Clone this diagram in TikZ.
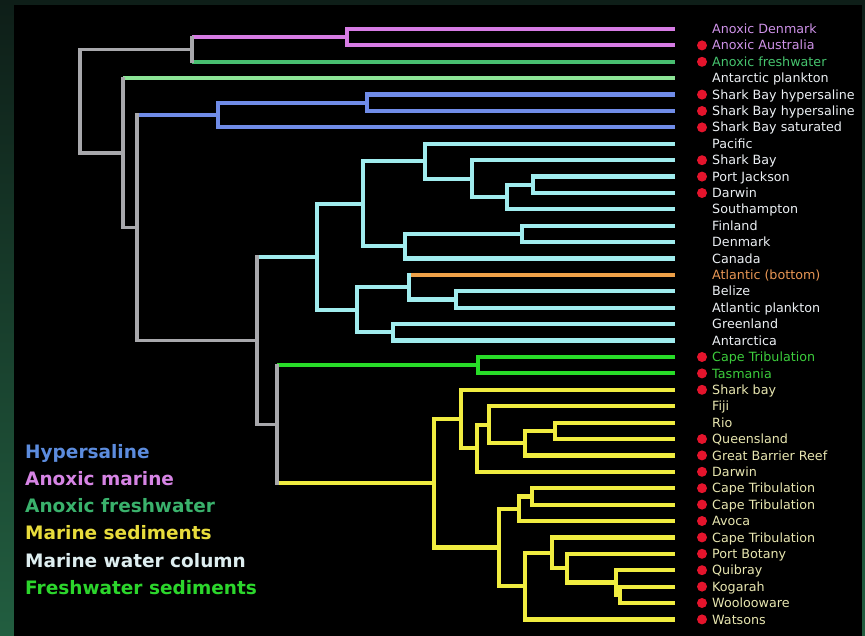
\documentclass[tikz,border=0pt]{standalone}
\usepackage{fontspec}
\setmainfont{DejaVu Sans}
\usepackage{xcolor}
\definecolor{dgtop}{RGB}{14, 30, 24}
\definecolor{dgbot}{RGB}{34, 94, 64}
\definecolor{anxmag}{RGB}{214, 124, 228}
\definecolor{anxfw}{RGB}{72, 190, 112}
\definecolor{antgrn}{RGB}{140, 228, 150}
\definecolor{hypblu}{RGB}{112, 140, 232}
\definecolor{seacyn}{RGB}{160, 236, 238}
\definecolor{atlorg}{RGB}{238, 160, 72}
\definecolor{frsgrn}{RGB}{40, 220, 40}
\definecolor{sedyel}{RGB}{240, 236, 64}
\definecolor{stemgr}{RGB}{168, 168, 172}
\definecolor{dotred}{RGB}{228, 20, 44}
\definecolor{labmag}{RGB}{206, 146, 232}
\definecolor{labfw}{RGB}{70, 196, 110}
\definecolor{labwht}{RGB}{236, 240, 244}
\definecolor{laborg}{RGB}{232, 150, 84}
\definecolor{labgrn}{RGB}{60, 204, 60}
\definecolor{labyel}{RGB}{232, 230, 176}
\definecolor{legblu}{RGB}{92, 140, 222}
\definecolor{legmag}{RGB}{214, 132, 228}
\definecolor{legfw}{RGB}{58, 178, 108}
\definecolor{legyel}{RGB}{232, 220, 60}
\definecolor{legwht}{RGB}{222, 238, 240}
\definecolor{leggrn}{RGB}{44, 214, 44}
\usepackage{tikz}

\begin{document}
\begin{tikzpicture}[
    x=1pt, y=-1pt,
    br/.style={line width=4.2pt},
    joint/.style={line cap=rect},
    anoxic/.style={br, draw=anxmag},
    anoxfw/.style={br, draw=anxfw},
    antarc/.style={br, draw=antgrn},
    hyper/.style={br, draw=hypblu},
    marine/.style={br, draw=seacyn},
    atlbot/.style={br, draw=atlorg},
    fresh/.style={br, draw=frsgrn},
    sedim/.style={br, draw=sedyel},
    trunk/.style={line width=3.2pt, draw=stemgr},
    leaf/.style={anchor=base west, inner sep=0pt,
                 font=\fontsize{12.7}{14}\selectfont},
    key/.style={anchor=base west, inner sep=0pt,
                font=\fontsize{18.5}{20}\selectfont\bfseries},
    reddot/.style={circle, fill=dotred, minimum size=10pt, inner sep=0pt}
  ]
  \shade[top color=dgtop, bottom color=dgbot] (0,0) rectangle (865,636);
  \fill[black] (14,5) rectangle (862,636);

  \foreach \i/\txt/\tc/\mk in {
      1/Anoxic Denmark/labmag/0, 2/Anoxic Australia/labmag/1,
      3/Anoxic freshwater/labfw/1, 4/Antarctic plankton/labwht/0,
      5/Shark Bay hypersaline/labwht/1, 6/Shark Bay hypersaline/labwht/1,
      7/Shark Bay saturated/labwht/1, 8/Pacific/labwht/0,
      9/Shark Bay/labwht/1, 10/Port Jackson/labwht/1,
      11/Darwin/labwht/1, 12/Southampton/labwht/0,
      13/Finland/labwht/0, 14/Denmark/labwht/0,
      15/Canada/labwht/0, 16/Atlantic (bottom)/laborg/0,
      17/Belize/labwht/0, 18/Atlantic plankton/labwht/0,
      19/Greenland/labwht/0, 20/Antarctica/labwht/0,
      21/Cape Tribulation/labgrn/1, 22/Tasmania/labgrn/1,
      23/Shark bay/labyel/1, 24/Fiji/labyel/0,
      25/Rio/labyel/0, 26/Queensland/labyel/1,
      27/Great Barrier Reef/labyel/1, 28/Darwin/labyel/1,
      29/Cape Tribulation/labyel/1, 30/Cape Tribulation/labyel/1,
      31/Avoca/labyel/1, 32/Cape Tribulation/labyel/1,
      33/Port Botany/labyel/1, 34/Quibray/labyel/1,
      35/Kogarah/labyel/1, 36/Woolooware/labyel/1,
      37/Watsons/labyel/1}{
    \coordinate (t\i) at (675,{29+16.4*(\i-1)});
    \node[leaf, text=\tc] (l\i) at (712,{33.6+16.4*(\i-1)}) {\txt};
    \ifnum\mk=1 \node[reddot] (d\i) at (702,{29+16.4*(\i-1)}) {}; \fi
  }

  \coordinate (A)   at (347, 37.2);
  \coordinate (B)   at (192, 49.5);
  \coordinate (H1)  at (367, 102.8);
  \coordinate (H)   at (218, 115.1);
  \coordinate (C1)  at (533, 184.8);
  \coordinate (C2)  at (507, 197.1);
  \coordinate (C3)  at (472, 178.65);
  \coordinate (C4)  at (425, 161.2);
  \coordinate (C5)  at (522, 234);
  \coordinate (C6)  at (405, 246.3);
  \coordinate (C7)  at (363, 203.75);
  \coordinate (C8)  at (456, 299.6);
  \coordinate (C9)  at (409, 287.3);
  \coordinate (C10) at (393, 332.4);
  \coordinate (C11) at (357, 309.85);
  \coordinate (C)   at (317, 256.8);
  \coordinate (G)   at (478, 365.2);
  \coordinate (Y1)  at (555, 430.8);
  \coordinate (Y2)  at (525, 443.1);
  \coordinate (Y3)  at (489, 424.65);
  \coordinate (Y4)  at (477, 448.2);
  \coordinate (Y5)  at (461, 419);
  \coordinate (Y6)  at (532, 496.4);
  \coordinate (Y7)  at (519, 508.7);
  \coordinate (Y8)  at (620, 594.8);
  \coordinate (Y9)  at (616, 582.5);
  \coordinate (Y10) at (567, 568.15);
  \coordinate (Y11) at (552, 552.8);
  \coordinate (Y12) at (525, 586.1);
  \coordinate (Y13) at (499, 547.4);
  \coordinate (Y)   at (434, 483.2);
  \coordinate (R1)  at (277, 424.2);
  \coordinate (R2)  at (257, 340.5);
  \coordinate (R3)  at (137, 227.8);
  \coordinate (R4)  at (123, 153);
  \coordinate (Rt)  at (80, 101.25);

  \foreach \p/\c/\s in {
      A/t1/anoxic, A/t2/anoxic, B/A/anoxic, B/t3/anoxfw,
      H1/t5/hyper, H1/t6/hyper, H/H1/hyper, H/t7/hyper,
      C1/t10/marine, C1/t11/marine, C2/C1/marine, C2/t12/marine,
      C3/t9/marine, C3/C2/marine, C4/t8/marine, C4/C3/marine,
      C5/t13/marine, C5/t14/marine, C6/C5/marine, C6/t15/marine,
      C7/C4/marine, C7/C6/marine, C8/t17/marine, C8/t18/marine,
      C9/t16/atlbot, C9/C8/marine, C10/t19/marine, C10/t20/marine,
      C11/C9/marine, C11/C10/marine, C/C7/marine, C/C11/marine,
      G/t21/fresh, G/t22/fresh,
      Y1/t25/sedim, Y1/t26/sedim, Y2/Y1/sedim, Y2/t27/sedim,
      Y3/t24/sedim, Y3/Y2/sedim, Y4/Y3/sedim, Y4/t28/sedim,
      Y5/t23/sedim, Y5/Y4/sedim, Y6/t29/sedim, Y6/t30/sedim,
      Y7/Y6/sedim, Y7/t31/sedim, Y8/t35/sedim, Y8/t36/sedim,
      Y9/t34/sedim, Y9/Y8/sedim, Y10/t33/sedim, Y10/Y9/sedim,
      Y11/t32/sedim, Y11/Y10/sedim, Y12/Y11/sedim, Y12/t37/sedim,
      Y13/Y7/sedim, Y13/Y12/sedim, Y/Y5/sedim, Y/Y13/sedim,
      R1/G/fresh, R1/Y/sedim, R2/C/marine, R2/R1/trunk,
      R3/H/hyper, R3/R2/trunk, R4/t4/antarc, R4/R3/trunk,
      Rt/B/trunk, Rt/R4/trunk}
    \draw[\s] (\p |- \c) -- (\c);

  \foreach \p/\a/\b/\s in {
      A/t1/t2/anoxic, B/A/t3/trunk, H1/t5/t6/hyper, H/H1/t7/hyper,
      C1/t10/t11/marine, C2/C1/t12/marine, C3/t9/C2/marine,
      C4/t8/C3/marine, C5/t13/t14/marine, C6/C5/t15/marine,
      C7/C4/C6/marine, C8/t17/t18/marine, C9/t16/C8/marine,
      C10/t19/t20/marine, C11/C9/C10/marine, C/C7/C11/marine,
      G/t21/t22/fresh,
      Y1/t25/t26/sedim, Y2/Y1/t27/sedim, Y3/t24/Y2/sedim,
      Y4/Y3/t28/sedim, Y5/t23/Y4/sedim, Y6/t29/t30/sedim,
      Y7/Y6/t31/sedim, Y8/t35/t36/sedim, Y9/t34/Y8/sedim,
      Y10/t33/Y9/sedim, Y11/t32/Y10/sedim, Y12/Y11/t37/sedim,
      Y13/Y7/Y12/sedim, Y/Y5/Y13/sedim,
      R1/G/Y/trunk, R2/C/R1/trunk, R3/H/R2/trunk,
      R4/t4/R3/trunk, Rt/B/R4/trunk}
    \draw[\s, joint] (\p |- \a) -- (\p |- \b);

  \node[key, text=legblu] (k1) at (25,458)   {Hypersaline};
  \node[key, text=legmag] (k2) at (25,485.3) {Anoxic marine};
  \node[key, text=legfw]  (k3) at (25,512.6) {Anoxic freshwater};
  \node[key, text=legyel] (k4) at (25,539.9) {Marine sediments};
  \node[key, text=legwht] (k5) at (25,567.2) {Marine water column};
  \node[key, text=leggrn] (k6) at (25,594.5) {Freshwater sediments};
\end{tikzpicture}
\end{document}
